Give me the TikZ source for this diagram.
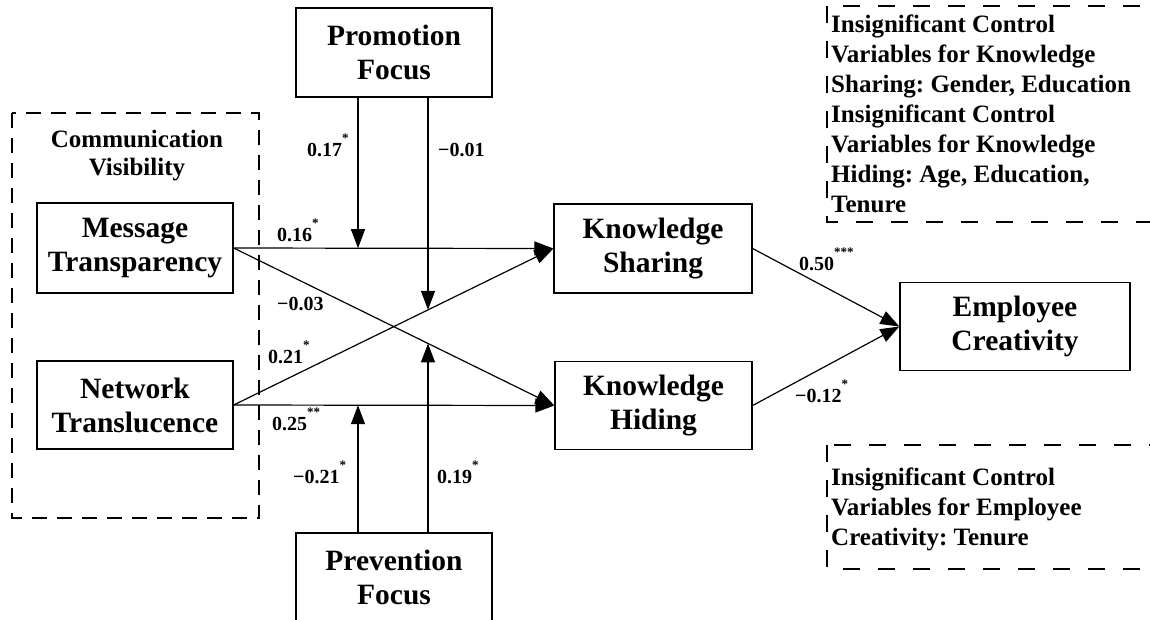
\documentclass[tikz,border=0pt]{standalone}
\usepackage{fontspec}
\setmainfont{Liberation Serif}
\usetikzlibrary{arrows.meta,intersections}
\frenchspacing
\newcommand{\sig}[1]{\raisebox{14pt}{\fontsize{13}{13}\selectfont #1}}
\begin{document}
\begin{tikzpicture}[x=1pt,y=-1pt,
  every node/.style={font=\bfseries},
  var/.style={draw,line width=1.3pt,inner sep=0pt,minimum width=196pt,minimum height=89pt,align=center,font=\bfseries\fontsize{29.5}{34}\selectfont},
  arr/.style={line width=1.2pt,-{Triangle[length=19pt,width=14pt]}},
  coef/.style={anchor=base west,inner sep=0pt,font=\bfseries\fontsize{20}{24}\selectfont},
  grp/.style={draw,line width=1.2pt,dash pattern=on 15pt off 10pt},
  ctrl/.style={draw,line width=1.2pt,dash pattern=on 17pt off 18pt},
  ctrltext/.style={anchor=base west,inner sep=0pt,align=left,font=\bfseries\fontsize{25}{30}\selectfont}]
\useasboundingbox (0,0) rectangle (1150,619);
\clip (0,0) rectangle (1150,619);

% group and control boxes
\draw[grp] (12,113) rectangle (259,518);
\node[anchor=base,inner sep=0pt,align=center,font=\bfseries\fontsize{25}{28}\selectfont] (cv) at (137,175) {Communication\\Visibility};
\draw[ctrl] (827,6) rectangle (1170,222);
\node[ctrltext] (c1) at (831,212) {Insignificant Control\\Variables for Knowledge\\Sharing: Gender, Education\\Insignificant Control\\Variables for Knowledge\\Hiding: Age, Education,\\Tenure};
\draw[ctrl] (827,445) rectangle (1170,569);
\node[ctrltext] (c2) at (831,545) {Insignificant Control\\Variables for Employee\\Creativity: Tenure};

% variables
\node[var] (PR) at (394,52.5) {Promotion\\Focus};
\node[var] (PV) at (394,577.5) {Prevention\\Focus};
\node[var,minimum height=90pt] (MT) at (135,248) {Message\\Transparency};
\node[var,minimum height=88pt] (NT) at (135,405) {Network\\Translucence};
\node[var,minimum width=198pt] (KS) at (653,248.5) {Knowledge\\Sharing};
\node[var,minimum width=197pt,minimum height=88pt] (KH) at (653.5,405.5) {Knowledge\\Hiding};
\node[var,minimum width=230pt,minimum height=88pt] (EC) at (1015,326.5) {Employee\\Creativity};

% main paths
\draw[arr] (MT.east) -- (KS.west);
\draw[arr] (MT.east) -- (KH.west);
\draw[arr] (NT.east) -- (KS.west);
\draw[arr] (NT.east) -- (KH.west);
\draw[arr] (KS.east) -- (EC.west);
\draw[arr] (KH.east) -- (EC.west);

% moderation
\path[name path=h1] (MT.east) -- (KS.west);
\path[name path=h2] (NT.east) -- (KH.west);
\path[name path=d1] (MT.east) -- (KH.west);
\path[name path=d2] (NT.east) -- (KS.west);
\path[name path=va] (358,0) -- (358,619);
\path[name path=vb] (428,0) -- (428,619);
\path[name intersections={of=h1 and va,by=m1}];
\path[name intersections={of=d2 and vb,by=m2}];
\path[name intersections={of=h2 and va,by=m3}];
\path[name intersections={of=d1 and vb,by=m4}];
\draw[arr] (PR.south -| m1) -- (m1);
\draw[arr] (PR.south -| m2) -- (m2);
\draw[arr] (PV.north -| m3) -- (m3);
\draw[arr] (PV.north -| m4) -- (m4);

% coefficients
\node[coef] (l1) at (307,156) {0.17\sig{*}};
\node[coef] (l2) at (438,156) {−0.01};
\node[coef] (l3) at (277,241) {0.16\sig{*}};
\node[coef] (l4) at (277,310) {−0.03};
\node[coef] (l5) at (268,363) {0.21\sig{*}};
\node[coef] (l6) at (272,430) {0.25\sig{**}};
\node[coef] (l7) at (293,483) {−0.21\sig{*}};
\node[coef] (l8) at (437,483) {0.19\sig{*}};
\node[coef] (l9) at (799,270) {0.50\sig{***}};
\node[coef] (l10) at (795,402) {−0.12\sig{*}};
\end{tikzpicture}
\end{document}
